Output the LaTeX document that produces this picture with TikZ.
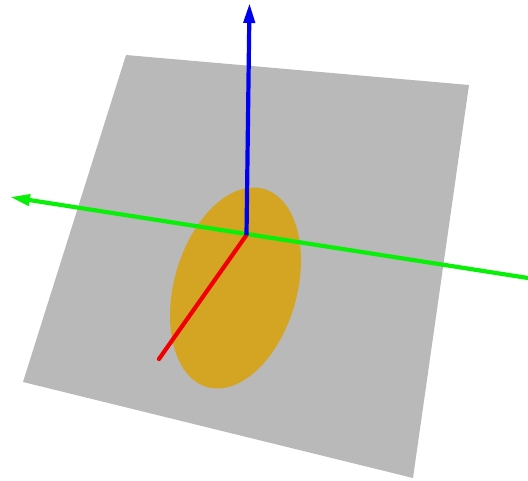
\documentclass[tikz,border=0pt]{standalone}
\usepackage{xcolor}
\usetikzlibrary{arrows.meta}
\definecolor{PlateGray}{HTML}{B9B9B9}
\definecolor{DiscGold}{HTML}{D4A522}
\definecolor{AxisGreen}{HTML}{08F008}
\definecolor{AxisBlue}{HTML}{0000F0}
\definecolor{AxisRed}{HTML}{F00000}

\begin{document}
\begin{tikzpicture}[
      x = 1pt,
      y = -1pt,
      plate/.style={
        fill = PlateGray,
      },
      disc/.style={
        fill = DiscGold,
      },
      axis arrow/.style={
        -{Triangle[length = 20pt, width = 11pt]},
        line width = 4.2pt,
      },
      axis line/.style={
        line width = 4.2pt,
        line cap = round,
      },
    ]
    \useasboundingbox (0,0) rectangle (528,481);
    \coordinate (o) at (246.5,235);
    \coordinate (x-end) at (159,359);
    \coordinate (y-start) at (528,278);
    \coordinate (y-end) at (10,197);
    \coordinate (z-end) at (249.5,3);
    \fill[plate] (126,55) -- (469,85) -- (413,478) -- (23,382) -- cycle;
    \fill[disc, rotate around = {-16:(235.5,288)}]
      (235.5,288) ellipse [x radius = 61.4, y radius = 103];
    \draw[axis arrow, AxisGreen] (y-start) -- (y-end);
    \draw[axis line, AxisRed] (o) -- (x-end);
    \draw[axis arrow, AxisBlue] (o) -- (z-end);
\end{tikzpicture}
\end{document}
